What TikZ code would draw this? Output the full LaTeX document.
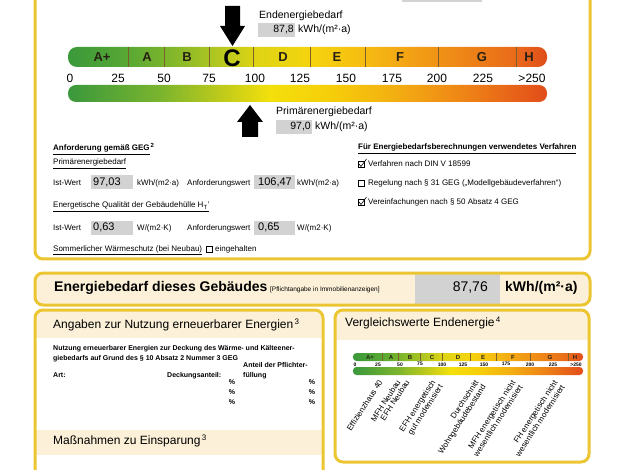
\documentclass[tikz,border=0pt]{standalone}
\usepackage{fontspec}
\setmainfont{Liberation Sans}
\definecolor{frameY}{RGB}{236,198,50}
\definecolor{cream}{RGB}{252,241,216}
\definecolor{greyV}{RGB}{210,210,210}
\definecolor{sepC}{RGB}{125,95,45}
\definecolor{letC}{RGB}{40,34,20}
\definecolor{c1}{RGB}{58,153,58}
\definecolor{c2}{RGB}{88,168,52}
\definecolor{c3}{RGB}{122,180,44}
\definecolor{c4}{RGB}{170,196,34}
\definecolor{c5}{RGB}{222,212,20}
\definecolor{c6}{RGB}{245,212,14}
\definecolor{c7}{RGB}{246,188,18}
\definecolor{c8}{RGB}{240,146,22}
\definecolor{c9}{RGB}{233,106,26}
\definecolor{c10}{RGB}{224,78,28}
\definecolor{d1}{RGB}{58,152,60}
\definecolor{d2}{RGB}{122,180,46}
\definecolor{d3}{RGB}{200,206,24}
\definecolor{d4}{RGB}{243,224,12}
\definecolor{d5}{RGB}{246,206,10}
\definecolor{d6}{RGB}{243,172,18}
\definecolor{d7}{RGB}{238,128,22}
\definecolor{d8}{RGB}{226,76,26}
\pgfdeclarehorizontalshading{topbar}{100bp}{color(0bp)=(c1); color(25bp)=(c1); color(31.26bp)=(c2); color(35.02bp)=(c3); color(39.82bp)=(c4); color(44.62bp)=(c5); color(50.26bp)=(c6); color(55.9bp)=(c7); color(63.62bp)=(c8); color(71.76bp)=(c9); color(75bp)=(c10); color(100bp)=(c10)}
\pgfdeclarehorizontalshading{lowbar}{100bp}{color(0bp)=(d1); color(25bp)=(d1); color(34.6bp)=(d2); color(41.91bp)=(d3); color(46.08bp)=(d4); color(52.35bp)=(d5); color(59.65bp)=(d6); color(66.96bp)=(d7); color(75bp)=(d8); color(100bp)=(d8)}
\newcommand\fsz[2]{\fontsize{#1}{#2}\selectfont}
\begin{document}
\begin{tikzpicture}[x=1pt,y=-1pt,
  yframe/.style={draw=frameY, line width=3, rounded corners=8},
  tx/.style={inner sep=0, anchor=mid west},
  gbox/.style={fill=greyV, inner sep=0, draw=none},
  f8/.style={font=\fsz{8}{9.6}},
  f8b/.style={font=\bfseries\fsz{8}{9.6}},
  f7b/.style={font=\bfseries\fsz{7}{8.4}},
  fval/.style={font=\fsz{11}{13}},
  f10/.style={font=\fsz{10.5}{12}},
  hdr/.style={font=\fsz{12}{14}},
  bignum/.style={inner sep=0, font=\fsz{12}{14}},
  barlet/.style={inner sep=0, text=letC, font=\bfseries\fsz{13}{15}},
  snum/.style={inner sep=0, font=\bfseries\fsz{5}{6}},
  slet/.style={inner sep=0, text=letC, font=\bfseries\fsz{6}{7}},
  rot/.style={inner sep=0, rotate=57, anchor=north east, align=right, font=\fsz{8}{8.6}},
  cbox/.style={draw, line width=0.5, minimum size=6, inner sep=0},
]
\useasboundingbox (0,0) rectangle (626,470);
\clip (0,0) rectangle (626,470);
\fill[white] (0,0) rectangle (626,470);

% ---------- main frame ----------
\draw[yframe] (35,-20) rectangle (590,259);
\fill[greyV] (402,-6) rectangle (482,2);

% big scale
\shade[shading=topbar, rounded corners=9] (68,47) rectangle (547,67);
\foreach \x in {128,164,209,253,310,365,438,516} \draw[sepC, line width=0.8] (\x,47) -- (\x,67);
\foreach \x/\l [count=\i] in {102/A+,147/A,187/B,283/D,337/E,400/F,482/G,529/H}
  \node[barlet] (bl\i) at (\x,57.5) {\l};
\node[inner sep=0, font=\bfseries\fsz{24}{25}] (blC) at (232,58) {C};
\foreach \x/\n [count=\i] in {70/0,118/25,164/50,209/75,255/100,300/125,346/150,392/175,437/200,483/225,532/>250}
  \node[bignum] (bn\i) at (\x,78) {\n};
\shade[shading=lowbar, rounded corners=8] (68,85) rectangle (547,102);

% arrows
\fill[black] (225,6) -- (240,6) -- (240,26) -- (245,26) -- (232.5,46) -- (220,26) -- (225,26) -- cycle;
\fill[black] (250,105) -- (263,122) -- (258,122) -- (258,137) -- (242,137) -- (242,122) -- (237,122) -- cycle;

% end energy label
\node[tx, f10] (endL) at (259,16) {Endenergiebedarf};
\node[gbox, minimum width=37, minimum height=14, anchor=west] (endG) at (258,30) {};
\node[tx, f10, anchor=mid east] (endV) at (294,30) {87,8};
\node[tx, f10] (endU) at (298,30) {kWh/(m²·a)};
% primary energy label
\node[tx, f10] (priL) at (276,112) {Primärenergiebedarf};
\node[gbox, minimum width=36, minimum height=14, anchor=west] (priG) at (276,127) {};
\node[tx, f10, anchor=mid east] (priV) at (311,127) {97,0};
\node[tx, f10] (priU) at (315,127) {kWh/(m²·a)};

% Anforderung section
\node[tx, f8b] (anf) at (53,148) {\underline{Anforderung gemäß GEG}\textsuperscript{\,2}};
\node[tx, f8] (pe) at (53,162) {\underline{Primärenergiebedarf}};
\node[tx, f8] (iw1) at (53,183) {Ist-Wert};
\node[gbox, minimum width=42, minimum height=14, anchor=west] (g1) at (91,182.5) {};
\node[tx, fval] (v1) at (93,182.5) {97,03};
\node[tx, f8] (u1) at (137,183) {kWh/(m2·a)};
\node[tx, f8] (aw1) at (187,183) {Anforderungswert};
\node[gbox, minimum width=41, minimum height=14, anchor=west] (g2) at (254,182.5) {};
\node[tx, fval] (v2) at (258,182.5) {106,47};
\node[tx, f8] (u2) at (297,183) {kWh/(m2·a)};
\node[tx, f8] (hq) at (53,205) {\underline{Energetische Qualität der Gebäudehülle H\textsubscript{T}'}};
\node[tx, f8] (iw2) at (53,228) {Ist-Wert};
\node[gbox, minimum width=42, minimum height=14, anchor=west] (g3) at (91,228) {};
\node[tx, fval] (v3) at (93,228) {0,63};
\node[tx, f8] (u3) at (137,228) {W/(m2·K)};
\node[tx, f8] (aw2) at (187,228) {Anforderungswert};
\node[gbox, minimum width=41, minimum height=14, anchor=west] (g4) at (254,228) {};
\node[tx, fval] (v4) at (258,228) {0,65};
\node[tx, f8] (u4) at (297,228) {W/(m2·K)};
\node[tx, f8] (sw) at (53,249) {\underline{Sommerlicher Wärmeschutz (bei Neubau)}};
\node[cbox] (cbS) at (209,249) {};
\node[tx, f8] (ein) at (215,249) {eingehalten};

% Verfahren
\node[tx, f8b] (verf) at (358,147) {\underline{Für Energiebedarfsberechnungen verwendetes Verfahren}};
\foreach \y/\c/\txt [count=\i] in {164/1/{Verfahren nach DIN V 18599},183/0/{Regelung nach § 31 GEG („Modellgebäudeverfahren“)},202/1/{Vereinfachungen nach § 50 Absatz 4 GEG}} {
  \node[cbox] (cb\i) at (361,\y) {};
  \ifnum\c=1 \draw[line width=0.6] (359,\y) -- (361,\y+2.5) -- (366.5,\y-5); \fi
  \node[tx, f8] (vt\i) at (368,\y) {\txt};
}

% ---------- Energiebedarf box ----------
\begin{scope}
  \clip[rounded corners=8] (35,273) rectangle (590,305);
  \fill[cream] (35,273) rectangle (590,305);
  \fill[greyV] (415,273) rectangle (500,305);
\end{scope}
\draw[yframe] (35,273) rectangle (590,305);
\node[tx] (eb) at (54,289) {{\bfseries\fsz{14}{16}Energiebedarf dieses Gebäudes} {\fsz{6.5}{8}[Pflichtangabe in Immobilienanzeigen]}};
\node[tx, font=\fsz{14}{16}, anchor=mid east] (ebv) at (488,289) {87,76};
\node[tx, font=\bfseries\fsz{14}{16}] (ebu) at (505,289) {kWh/(m²·a)};

% ---------- Angaben box ----------
\begin{scope}
  \clip[rounded corners=8] (35,310) rectangle (323,490);
  \fill[cream] (35,310) rectangle (323,338);
  \fill[cream] (35,430) rectangle (323,455);
\end{scope}
\draw[yframe] (35,310) rectangle (323,490);
\node[tx, hdr] (ang) at (53,326) {Angaben zur Nutzung erneuerbarer Energien\textsuperscript{\,3}};
\node[tx, f7b] (n1) at (53,348) {Nutzung erneuerbarer Energien zur Deckung des Wärme- und Kälteener-};
\node[tx, f7b] (n2) at (53,358) {giebedarfs auf Grund des § 10 Absatz 2 Nummer 3 GEG};
\node[tx, f7b] (an1) at (243,365) {Anteil der Pflichter-};
\node[tx, f7b] (an2) at (243,375) {füllung};
\node[tx, f7b] (art) at (53,375) {Art:};
\node[tx, f7b] (deck) at (167,375) {Deckungsanteil:};
\foreach \y [count=\i] in {382,392,402} {
  \node[tx, f7b, anchor=mid] (pa\i) at (232,\y) {\%};
  \node[tx, f7b, anchor=mid] (pb\i) at (312,\y) {\%};
}
\node[tx, hdr] (mass) at (53,442) {Maßnahmen zu Einsparung\textsuperscript{\,3}};

% ---------- Vergleichswerte box ----------
\begin{scope}
  \clip[rounded corners=8] (335,310) rectangle (589,462);
  \fill[cream] (335,310) rectangle (589,340);
\end{scope}
\draw[yframe] (335,310) rectangle (589,462);
\node[tx, hdr] (vgl) at (345,324) {Vergleichswerte Endenergie\textsuperscript{\,4}};

\shade[shading=topbar, rounded corners=3.5] (353,353) rectangle (583,361);
\foreach \x in {382,398,420,442,470,496,530,568} \draw[sepC, line width=0.5] (\x,353) -- (\x,361);
\foreach \x/\l [count=\i] in {370/A+,391/A,410/B,432/C,458/D,483/E,513/F,550/G,575/H}
  \node[slet] (sl\i) at (\x,357) {\l};
\foreach \x/\n [count=\i] in {355/0,378/25,400/50,420/75,442/100,463/125,484/150,506/175,530/200,553/225,576/>250}
  \node[snum] (sn\i) at (\x,364.3) {\n};
\shade[shading=lowbar, rounded corners=3.5] (353,367) rectangle (583,375);

\foreach \x/\txt [count=\i] in {378/{Effizienzhaus 40},396/{MFH Neubau},405/{EFH Neubau},431/{EFH energetisch\\gut modernisiert},474/{Durchschnitt\\Wohngebäudebestand},511/{MFH energetisch nicht\\wesentlich modernisiert},553/{FH energetisch nicht\\wesentlich modernisiert}}
  \node[rot] (r\i) at (\x,379) {\txt};
\end{tikzpicture}
\end{document}
